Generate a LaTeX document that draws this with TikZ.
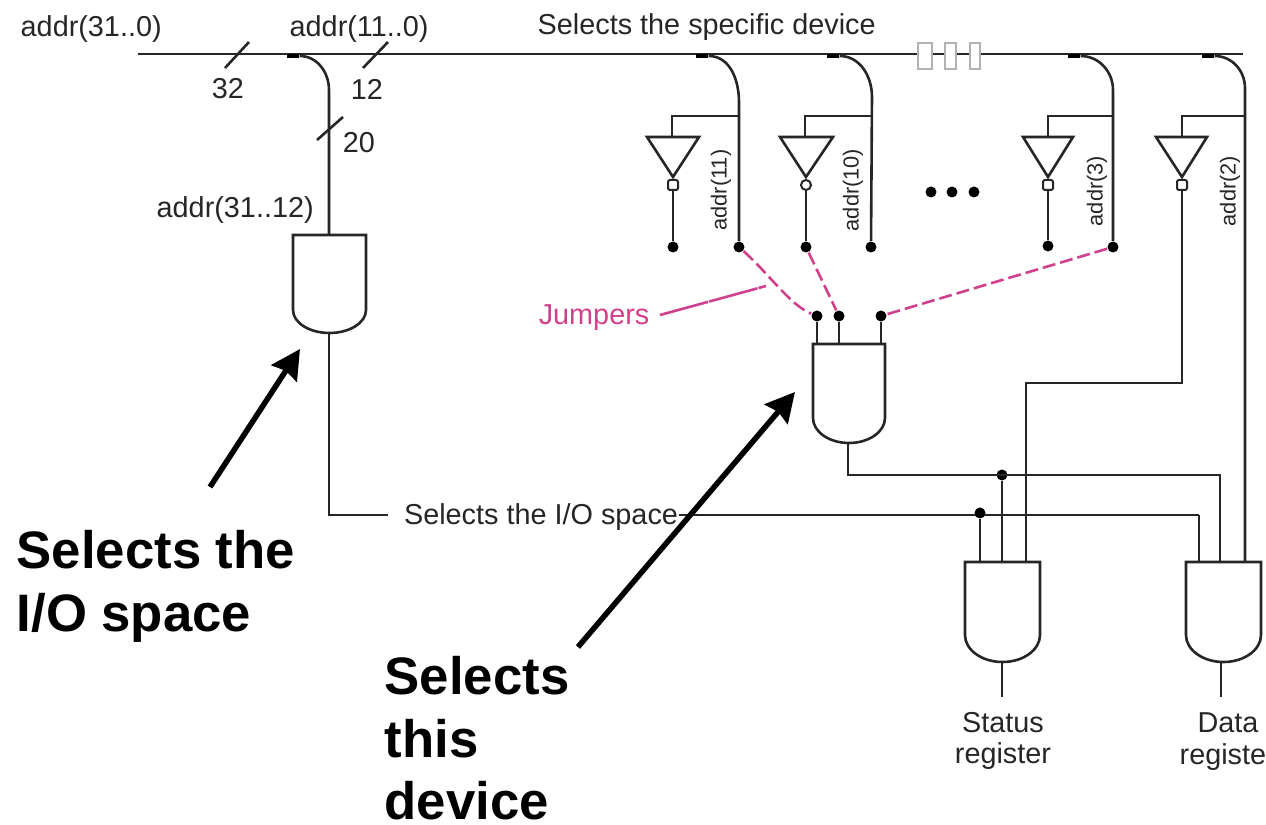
\documentclass[tikz,border=0pt]{standalone}
\usepackage{fontspec}
\setmainfont{Liberation Sans}
\usetikzlibrary{arrows.meta}
\definecolor{jumpercolor}{HTML}{D0408C}
\tikzset{
  wire/.style={line width=0.026cm, black!85},
  jumperline/.style={line width=0.026cm, jumpercolor, dash pattern=on 0.13cm off 0.05cm},
  dotnode/.style={circle, fill=black, inner sep=0, minimum size=0.11cm},
  tapnode/.style={rectangle, fill=black, inner sep=0, minimum width=0.12cm, minimum height=0.04cm},
  bubblenode/.style={rectangle, rounded corners=0.02cm, draw=black!85, line width=0.02cm, fill=white, inner sep=0, minimum size=0.10cm},
  breaknode/.style={rectangle, draw=black!30, line width=0.02cm, fill=white, inner sep=0, minimum height=0.26cm},
  smalltext/.style={font=\fontsize{8.2}{10}\selectfont, inner sep=0, black!85},
  tinytext/.style={font=\fontsize{6.2}{8}\selectfont, inner sep=0, rotate=90, black!85},
  bigtext/.style={font=\fontsize{15}{17.7}\selectfont\bfseries, inner sep=0, align=left, anchor=north west},
  bigarrow/.style={line width=0.055cm, -{Stealth[inset=0.03cm,length=0.29cm,width=0.30cm]}}
}
\begin{document}
\begin{tikzpicture}
  \useasboundingbox (0,0) rectangle (12.66,8.25);

  % Marking points of the bus
  \coordinate (busstart) at (1.38,7.71);
  \coordinate (busend) at (12.43,7.71);

  % Drawing the bus and its break
  \draw [wire] (busstart) -- (busend);%
  \node [breaknode, minimum width=0.14cm] (brka) at (9.25,7.69) {};
  \node [breaknode, minimum width=0.11cm] (brkb) at (9.50,7.69) {};
  \node [breaknode, minimum width=0.10cm] (brkc) at (9.75,7.69) {};

  % Drawing the bus slashes
  \coordinate (slasha) at (2.25,7.57);
  \coordinate (slashb) at (2.49,7.83);
  \coordinate (slashc) at (3.63,7.57);
  \coordinate (slashd) at (3.88,7.83);
  \coordinate (slashe) at (3.17,6.85);
  \coordinate (slashf) at (3.43,7.08);
  \draw [wire] (slasha) -- (slashb);%
  \draw [wire] (slashc) -- (slashd);%
  \draw [wire] (slashe) -- (slashf);%

  % Drawing gate of the I/O space
  \coordinate (gateatop) at (3.29,5.90);
  \coordinate (gateabot) at (3.29,4.92);
  \draw [wire] (2.93,5.90) -- (3.66,5.90) -- (3.66,5.15)
    arc [start angle=0, end angle=-180, x radius=0.365, y radius=0.23] -- cycle;%

  % Drawing branch to gate of the I/O space
  \node [tapnode] (tapa) at (2.93,7.69) {};
  \coordinate (benda) at (3.29,7.35);
  \draw [wire] (tapa.east) to [out=0, in=90] (benda) -- (gateatop);%

  % Drawing select line of the I/O space
  \node [smalltext] (iotext) at (5.41,3.08) {Selects the I/O space};
  \coordinate (iogap) at (3.88,3.10);
  \coordinate (iocorner) at (3.29,3.10);
  \coordinate (iolast) at (11.99,3.10);
  \draw [wire] (gateabot) -- (iocorner) -- (iogap);%
  \draw [wire] (iotext.east |- iolast) -- (iolast);%

  % Drawing first inverter
  \node [tapnode] (tapb) at (7.02,7.69) {};
  \coordinate (bendb) at (7.39,7.23);
  \coordinate (invatop) at (6.72,7.09);
  \coordinate (invajoin) at (7.39,7.09);
  \node [dotnode] (invadot) at (6.73,5.78) {};
  \node [dotnode] (trunkadot) at (7.39,5.78) {};
  \draw [wire] (tapb.east) to [out=0, in=90] (bendb) -- (trunkadot);%
  \draw [wire] (invajoin) -- (invatop) -- (6.72,6.88);%
  \draw [wire] (6.47,6.88) -- (6.99,6.88) -- (6.73,6.48) -- cycle;%
  \node [bubblenode] (bubblea) at (6.73,6.40) {};
  \draw [wire] (bubblea) -- (invadot);%
  \node [tinytext] (addra) at (7.21,6.35) {addr(11)};

  % Drawing second inverter
  \node [tapnode] (tapc) at (8.33,7.69) {};
  \coordinate (bendc) at (8.72,7.28);
  \coordinate (invbtop) at (8.05,7.09);
  \coordinate (invbjoin) at (8.72,7.09);
  \node [dotnode] (invbdot) at (8.06,5.78) {};
  \node [dotnode] (trunkbdot) at (8.71,5.78) {};
  \draw [wire] (tapc.east) to [out=0, in=90] (bendc) -- (trunkbdot);%
  \draw [wire] (invbjoin) -- (invbtop) -- (8.05,6.88);%
  \draw [wire] (7.80,6.88) -- (8.33,6.88) -- (8.06,6.48) -- cycle;%
  \node [bubblenode, circle] (bubbleb) at (8.06,6.40) {};
  \draw [wire] (bubbleb) -- (invbdot);%
  \node [tinytext] (addrb) at (8.53,6.35) {addr(10)};

  % Drawing the three dots
  \node [dotnode] (morea) at (9.31,6.33) {};
  \node [dotnode] (moreb) at (9.52,6.33) {};
  \node [dotnode] (morec) at (9.74,6.33) {};

  % Drawing third inverter
  \node [tapnode] (tapd) at (10.74,7.69) {};
  \coordinate (bendd) at (11.13,7.35);
  \coordinate (invctop) at (10.48,7.09);
  \coordinate (invcjoin) at (11.13,7.09);
  \node [dotnode] (invcdot) at (10.48,5.79) {};
  \node [dotnode] (trunkcdot) at (11.13,5.78) {};
  \draw [wire] (tapd.east) to [out=0, in=90] (bendd) -- (trunkcdot);%
  \draw [wire] (invcjoin) -- (invctop) -- (10.48,6.88);%
  \draw [wire] (10.23,6.88) -- (10.73,6.88) -- (10.48,6.48) -- cycle;%
  \node [bubblenode] (bubblec) at (10.48,6.40) {};
  \draw [wire] (bubblec) -- (invcdot);%
  \node [tinytext] (addrc) at (10.97,6.34) {addr(3)};

  % Drawing fourth inverter
  \node [tapnode] (tape) at (12.08,7.69) {};
  \coordinate (bende) at (12.45,7.37);
  \coordinate (invdtop) at (11.82,7.09);
  \coordinate (invdjoin) at (12.45,7.09);
  \coordinate (datatrunk) at (12.45,2.63);
  \draw [wire] (tape.east) to [out=0, in=90] (bende) -- (datatrunk);%
  \draw [wire] (invdjoin) -- (invdtop) -- (11.82,6.88);%
  \draw [wire] (11.56,6.88) -- (12.07,6.88) -- (11.82,6.48) -- cycle;%
  \node [bubblenode] (bubbled) at (11.82,6.40) {};
  \coordinate (invdcorner) at (11.82,4.42);
  \coordinate (statuscorner) at (10.26,4.42);
  \coordinate (statustrunk) at (10.26,2.63);
  \draw [wire] (bubbled) -- (invdcorner) -- (statuscorner) -- (statustrunk);%
  \node [tinytext] (addrd) at (12.30,6.34) {addr(2)};

  % Drawing gate of this device
  \coordinate (gatebbot) at (8.48,3.82);
  \draw [wire] (8.13,4.81) -- (8.85,4.81) -- (8.85,4.07)
    arc [start angle=0, end angle=-180, x radius=0.36, y radius=0.25] -- cycle;%
  \node [dotnode] (inputa) at (8.17,5.09) {};
  \node [dotnode] (inputb) at (8.39,5.09) {};
  \node [dotnode] (inputc) at (8.81,5.09) {};
  \coordinate (inputafoot) at (8.17,4.81);
  \coordinate (inputbfoot) at (8.39,4.81);
  \coordinate (inputcfoot) at (8.81,4.81);
  \draw [wire] (inputa) -- (inputafoot);%
  \draw [wire] (inputb) -- (inputbfoot);%
  \draw [wire] (inputc) -- (inputcfoot);%

  % Drawing the jumpers
  \coordinate (jumpertext) at (6.60,5.10);
  \coordinate (jumperend) at (7.66,5.39);
  \draw [jumperline] (trunkadot) .. controls (7.70,5.50) and (7.90,5.20) .. (inputa);%
  \draw [jumperline] (invbdot) -- (inputb);%
  \draw [jumperline] (trunkcdot) -- (inputc);%
  \draw [jumperline, dash pattern=on 0.5cm off 0.01cm] (jumpertext) -- (jumperend);%
  \node [smalltext, text=jumpercolor, anchor=east] (jumperlabel) at (6.50,5.07) {Jumpers};

  % Drawing select line of this device
  \coordinate (selcorner) at (8.48,3.50);
  \coordinate (sellast) at (12.20,3.50);
  \node [dotnode] (seldot) at (10.02,3.50) {};
  \node [dotnode] (iodot) at (9.80,3.12) {};

  % Drawing gate of the status register
  \coordinate (statusbot) at (10.02,1.63);
  \coordinate (statusout) at (10.02,1.28);
  \coordinate (iofoot) at (9.80,2.63);
  \coordinate (selfoot) at (10.02,2.63);
  \draw [wire] (9.65,2.63) -- (10.40,2.63) -- (10.40,1.90)
    arc [start angle=0, end angle=-180, x radius=0.375, y radius=0.27] -- cycle;%
  \draw [wire] (iodot) -- (iofoot);%
  \draw [wire] (seldot) -- (selfoot);%
  \draw [wire] (statusbot) -- (statusout);%

  % Drawing gate of the data register
  \coordinate (databot) at (12.21,1.63);
  \coordinate (dataout) at (12.21,1.28);
  \coordinate (iodatafoot) at (11.99,2.63);
  \coordinate (seldatafoot) at (12.20,2.63);
  \draw [wire] (11.86,2.63) -- (12.61,2.63) -- (12.61,1.90)
    arc [start angle=0, end angle=-180, x radius=0.375, y radius=0.27] -- cycle;%
  \draw [wire] (gatebbot) -- (selcorner) -- (sellast) -- (seldatafoot);%
  \draw [wire] (iolast) -- (iodatafoot);%
  \draw [wire] (databot) -- (dataout);%

  % Marking the small labels
  \node [smalltext, anchor=west] (addrall) at (0.20,7.96) {addr(31..0)};
  \node [smalltext, anchor=west] (addrlow) at (2.89,7.96) {addr(11..0)};
  \node [smalltext, anchor=west] (addrhigh) at (1.56,6.15) {addr(31..12)};
  \node [smalltext, anchor=west] (selspec) at (5.37,7.98) {Selects the specific device};
  \node [smalltext] (widtha) at (2.28,7.36) {32};
  \node [smalltext] (widthb) at (3.67,7.36) {12};
  \node [smalltext] (widthc) at (3.59,6.82) {20};
  \node [smalltext, align=center] (statuslabel) at (10.03,0.84) {Status\\[-1.2pt]register};
  \node [smalltext] (datalabel) at (12.28,1.02) {Data};
  \node [smalltext, anchor=base west] (datalabelb) at (11.79,0.60) {registe};

  % Marking the big labels and arrows
  \node [bigtext] (bigio) at (0.16,2.95) {Selects the\\I/O space};
  \node [bigtext] (bigdev) at (3.84,1.69) {Selects\\this\\device};
  \coordinate (arrowatail) at (2.10,3.38);
  \coordinate (arrowahead) at (3.00,4.76);
  \coordinate (arrowbtail) at (5.78,1.78);
  \coordinate (arrowbhead) at (7.95,4.33);
  \draw [bigarrow] (arrowatail) -- (arrowahead);%
  \draw [bigarrow] (arrowbtail) -- (arrowbhead);%
\end{tikzpicture}
\end{document}
